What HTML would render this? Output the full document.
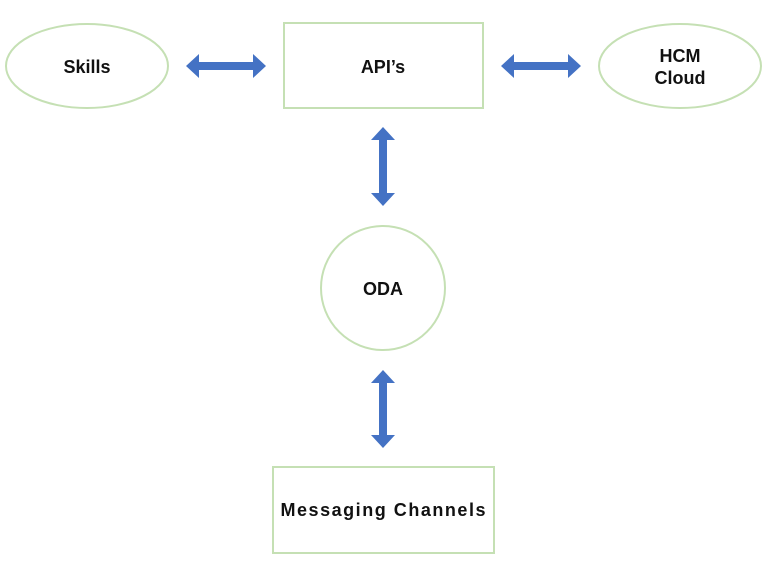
<!DOCTYPE html>
<html><head><style>body{margin:0;background:#fff}svg{display:block}</style></head><body>
<svg width="768" height="576" viewBox="0 0 768 576" xmlns="http://www.w3.org/2000/svg">
<g fill="none" stroke="#c5e0b4" stroke-width="2">
<ellipse cx="87" cy="66" rx="81" ry="42"/>
<rect x="284" y="23" width="199" height="85"/>
<ellipse cx="680" cy="66" rx="81" ry="42"/>
<circle cx="383" cy="288" r="62"/>
<rect x="273" y="467" width="221" height="86"/>
</g>
<g fill="#4472c4">
<polygon points="186,66 199,54 199,62 253,62 253,54 266,66 253,78 253,70 199,70 199,78"/>
<polygon points="501,66 514,54 514,62 568,62 568,54 581,66 568,78 568,70 514,70 514,78"/>
<polygon points="383,127 395,140 387,140 387,193 395,193 383,206 371,193 379,193 379,140 371,140"/>
<polygon points="383,370 395,383 387,383 387,435 395,435 383,448 371,435 379,435 379,383 371,383"/>
</g>
<g font-family="Liberation Sans, sans-serif" font-weight="bold" font-size="18" fill="#111" text-anchor="middle">
<text x="87" y="73">Skills</text>
<text x="383" y="73">API’s</text>
<text x="680" y="62">HCM</text>
<text x="680" y="84">Cloud</text>
<text x="383" y="295">ODA</text>
<text x="383" y="516" textLength="205" lengthAdjust="spacing">Messaging Channels</text>
</g>
</svg>
</body></html>
